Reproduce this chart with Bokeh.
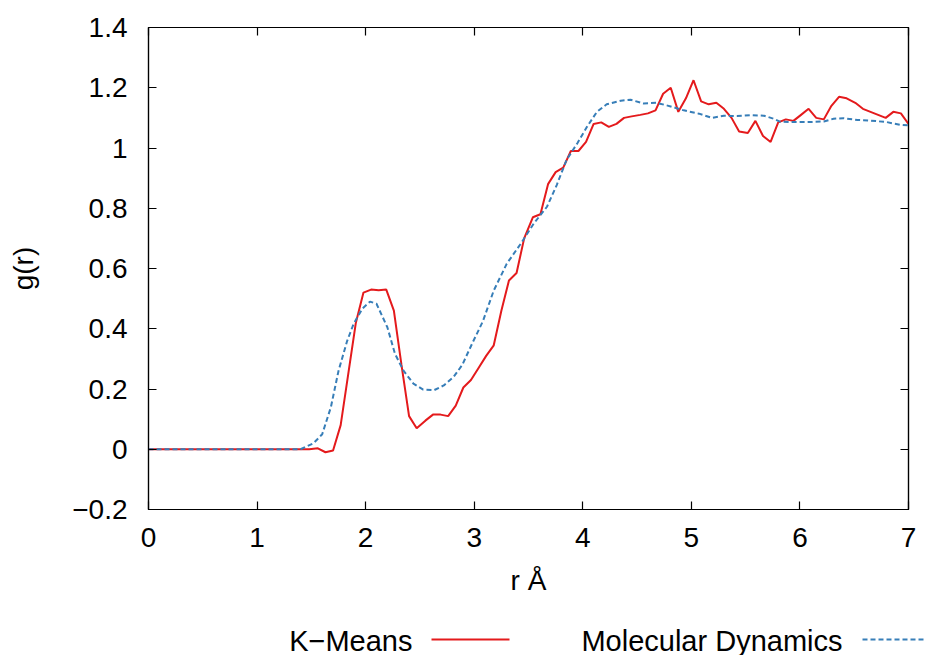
from bokeh.plotting import figure
from bokeh.layouts import column
from bokeh.models import (LinearAxis, FixedTicker, CustomJSTickFormatter, Range1d)
from bokeh.core.properties import value
from bokeh.embed import file_html
from bokeh.resources import INLINE

# ---- data ----
km_r = [0.00, 0.07, 0.14, 0.21, 0.28, 0.35, 0.42, 0.49, 0.57, 0.64,
        0.71, 0.78, 0.85, 0.92, 0.99, 1.06, 1.13, 1.20, 1.27, 1.34,
        1.41, 1.48, 1.56, 1.63, 1.70, 1.77, 1.84, 1.91, 1.98, 2.05,
        2.12, 2.19, 2.26, 2.33, 2.40, 2.47, 2.55, 2.62, 2.69, 2.76,
        2.83, 2.90, 2.97, 3.04, 3.11, 3.18, 3.25, 3.32, 3.39, 3.46,
        3.54, 3.61, 3.68, 3.75, 3.82, 3.89, 3.96, 4.03, 4.10, 4.17,
        4.24, 4.31, 4.38, 4.45, 4.53, 4.60, 4.67, 4.74, 4.81, 4.88,
        4.95, 5.02, 5.09, 5.16, 5.23, 5.30, 5.37, 5.44, 5.52, 5.59,
        5.66, 5.73, 5.80, 5.87, 5.94, 6.01, 6.08, 6.15, 6.22, 6.29,
        6.36, 6.43, 6.51, 6.58, 6.65, 6.72, 6.79, 6.86, 6.93, 7.00]
km_g = [0, 0, 0, 0, 0, 0, 0, 0, 0, 0,
        0, 0, 0, 0, 0, 0, 0, 0, 0, 0,
        0, 0, 0.003, -0.01, -0.004, 0.08, 0.25, 0.42, 0.52, 0.53,
        0.528, 0.53, 0.46, 0.28, 0.11, 0.07, 0.095, 0.115, 0.115, 0.11,
        0.145, 0.205, 0.23, 0.27, 0.31, 0.345, 0.46, 0.56, 0.585, 0.70,
        0.77, 0.78, 0.88, 0.92, 0.935, 0.99, 0.99, 1.02, 1.08, 1.085,
        1.07, 1.08, 1.10, 1.105, 1.11, 1.115, 1.125, 1.18, 1.20, 1.12,
        1.165, 1.225, 1.155, 1.145, 1.15, 1.13, 1.10, 1.055, 1.05, 1.09,
        1.04, 1.02, 1.085, 1.095, 1.09, 1.11, 1.13, 1.10, 1.095, 1.14,
        1.17, 1.165, 1.15, 1.13, 1.12, 1.11, 1.10, 1.12, 1.115, 1.08]

md_r = [0.00, 1.40, 1.52, 1.60, 1.68, 1.75, 1.83, 1.89, 1.97, 2.04,
        2.10, 2.20, 2.27, 2.35, 2.44, 2.53, 2.63, 2.72, 2.81, 2.89,
        2.98, 3.08, 3.18, 3.30, 3.43, 3.55, 3.67, 3.76, 3.85, 3.95,
        4.04, 4.13, 4.22, 4.35, 4.44, 4.56, 4.68, 4.81, 4.93, 5.07,
        5.19, 5.30, 5.42, 5.54, 5.67, 5.76, 5.82, 5.94, 6.06, 6.22,
        6.31, 6.40, 6.53, 6.65, 6.80, 6.92, 7.00]
md_g = [0.0, 0.0, 0.02, 0.05, 0.14, 0.26, 0.36, 0.417, 0.467, 0.49,
        0.483, 0.405, 0.317, 0.26, 0.218, 0.198, 0.196, 0.212, 0.24, 0.28,
        0.35, 0.425, 0.527, 0.616, 0.683, 0.75, 0.805, 0.877, 0.96, 1.016,
        1.071, 1.12, 1.145, 1.157, 1.16, 1.148, 1.15, 1.138, 1.125, 1.114,
        1.10, 1.107, 1.106, 1.109, 1.107, 1.097, 1.087, 1.086, 1.086, 1.088,
        1.097, 1.099, 1.093, 1.091, 1.086, 1.077, 1.075]

x_ticks = [0, 1, 2, 3, 4, 5, 6, 7]
y_ticks = [-0.2, 0, 0.2, 0.4, 0.6, 0.8, 1.0, 1.2, 1.4]
series_names = ["K\u2212Means", "Molecular Dynamics"]
x_label = "r \u00c5"
y_label = "g(r)"

RED = "#e41a1c"
BLUE = "#377eb8"
FONT = "Liberation Sans"
FS = "28px"
FS_LEG = "29px"

W = 926
H_MAIN = 598
H_LEG = 57

p = figure(width=W, height=H_MAIN, output_backend="svg", toolbar_location=None,
           x_range=Range1d(0, 7), y_range=Range1d(-0.2, 1.4),
           x_axis_label=x_label, y_axis_label=y_label,
           min_border_left=148, min_border_right=18, min_border_top=27,
           min_border_bottom=H_MAIN - 510)
p.frame_align = False
p.xgrid.visible = False
p.ygrid.visible = False
p.outline_line_color = "black"
p.outline_line_width = 1.2

yfmt = CustomJSTickFormatter(code="""
var s = tick.toFixed(1);
if (s.endsWith('.0')) { s = s.slice(0, -2); }
if (s === '-0') { s = '0'; }
return s.replace('-', '\\u2212');
""")
xfmt = CustomJSTickFormatter(code="return tick.toFixed(0);")
blankfmt = CustomJSTickFormatter(code="return '';")

def style_axis(ax, show_labels=True):
    ax.axis_line_color = "black"
    ax.axis_line_width = 1.2
    ax.major_tick_in = 8
    ax.major_tick_out = 0
    ax.major_tick_line_color = "black"
    ax.major_tick_line_width = 1.2
    ax.minor_tick_line_color = None
    ax.major_label_text_font = FONT
    ax.axis_label_text_font = FONT
    ax.axis_label_text_font_style = "normal"
    ax.axis_label_text_font_size = FS
    ax.axis_label_text_color = "black"
    if show_labels:
        ax.major_label_text_font_size = FS
        ax.major_label_text_color = "black"
    else:
        ax.major_label_text_font_size = "1px"
        ax.major_label_text_color = None
        ax.major_label_standoff = 0

xa = p.xaxis[0]
xa.ticker = FixedTicker(ticks=x_ticks)
xa.formatter = xfmt
style_axis(xa)
xa.major_label_standoff = 18
xa.axis_label_standoff = 15

ya = p.yaxis[0]
ya.ticker = FixedTicker(ticks=y_ticks)
ya.formatter = yfmt
style_axis(ya)
ya.major_label_standoff = 21
ya.axis_label_standoff = 30

top = LinearAxis(ticker=FixedTicker(ticks=x_ticks), formatter=blankfmt)
style_axis(top, False)
p.add_layout(top, "above")
right = LinearAxis(ticker=FixedTicker(ticks=y_ticks), formatter=blankfmt)
style_axis(right, False)
p.add_layout(right, "right")

p.line(km_r, km_g, line_color=RED, line_width=2)
p.line(md_r, md_g, line_color=BLUE, line_width=2, line_dash="5 3")

# ---- legend strip below (text left of sample, as in the reference) ----
leg = figure(width=W, height=H_LEG, output_backend="svg", toolbar_location=None,
             x_range=Range1d(0, W), y_range=Range1d(0, H_LEG),
             min_border=0, min_border_left=0, min_border_right=0,
             min_border_top=0, min_border_bottom=0)
leg.frame_align = False
leg.axis.visible = False
leg.grid.visible = False
leg.outline_line_color = None
total_h = H_MAIN + H_LEG
line_y = total_h - 639
text_y = total_h - 640
leg.text(x=[412, 842], y=[text_y, text_y], text=series_names, text_align="right",
         text_baseline="middle", text_font=value(FONT), text_font_size=FS_LEG,
         text_color="black")
leg.line(x=[431, 509], y=[line_y, line_y], line_color=RED, line_width=2)
leg.line(x=[862, 926], y=[line_y, line_y], line_color=BLUE, line_width=2,
         line_dash="5 3")

layout = column(p, leg, spacing=0)
open("out.html", "w").write(file_html(layout, INLINE))
